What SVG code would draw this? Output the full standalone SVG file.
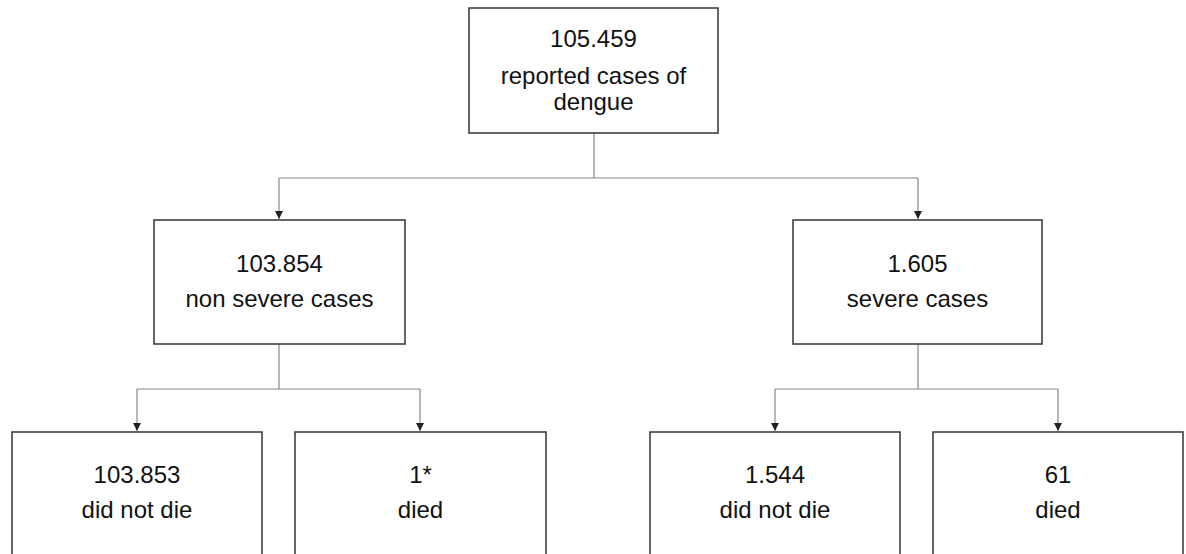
<svg xmlns="http://www.w3.org/2000/svg" width="1186" height="554" viewBox="0 0 1186 554">
<style>
.box{fill:#fff;stroke:#333;stroke-width:1.5}
.t{font-family:"Liberation Sans",Arial,sans-serif;font-size:24px;fill:#111;text-anchor:middle}
.c{fill:none;stroke:#888;stroke-width:1.2}
</style>
<defs>
<marker id="ah" markerWidth="10" markerHeight="10" refX="8" refY="4" orient="auto" markerUnits="userSpaceOnUse">
<path d="M0,0 L8,4 L0,8 Z" fill="#222"/>
</marker>
</defs>
<rect width="1186" height="554" fill="#fff"/>
<g id="connectors">
<path class="c" d="M594,133 V178"/>
<path class="c" d="M279,178 H918"/>
<path class="c" d="M279,178 V219" marker-end="url(#ah)"/>
<path class="c" d="M918,178 V219" marker-end="url(#ah)"/>
<path class="c" d="M279,344 V389 M137,389 H420"/>
<path class="c" d="M137,389 V431" marker-end="url(#ah)"/>
<path class="c" d="M420,389 V431" marker-end="url(#ah)"/>
<path class="c" d="M918,344 V389 M775,389 H1058"/>
<path class="c" d="M775,389 V431" marker-end="url(#ah)"/>
<path class="c" d="M1058,389 V431" marker-end="url(#ah)"/>
</g>
<g id="n-total">
<rect class="box" x="469" y="8" width="249" height="125"/>
<text class="t" x="593.5" y="47">105.459</text>
<text class="t" x="593.5" y="84">reported cases of</text>
<text class="t" x="593.5" y="110">dengue</text>
</g>
<g id="n-nonsevere">
<rect class="box" x="154" y="220" width="251" height="124"/>
<text class="t" x="279.5" y="272">103.854</text>
<text class="t" x="279.5" y="307">non severe cases</text>
</g>
<g id="n-severe">
<rect class="box" x="793" y="220" width="249" height="124"/>
<text class="t" x="917.5" y="272">1.605</text>
<text class="t" x="917.5" y="307">severe cases</text>
</g>
<g id="n-ns-survived">
<rect class="box" x="12" y="432" width="250" height="140"/>
<text class="t" x="137" y="483">103.853</text>
<text class="t" x="137" y="518">did not die</text>
</g>
<g id="n-ns-died">
<rect class="box" x="295" y="432" width="251" height="140"/>
<text class="t" x="420.5" y="483">1*</text>
<text class="t" x="420.5" y="518">died</text>
</g>
<g id="n-s-survived">
<rect class="box" x="650" y="432" width="250" height="140"/>
<text class="t" x="775" y="483">1.544</text>
<text class="t" x="775" y="518">did not die</text>
</g>
<g id="n-s-died">
<rect class="box" x="933" y="432" width="250" height="140"/>
<text class="t" x="1058" y="483">61</text>
<text class="t" x="1058" y="518">died</text>
</g>
</svg>
